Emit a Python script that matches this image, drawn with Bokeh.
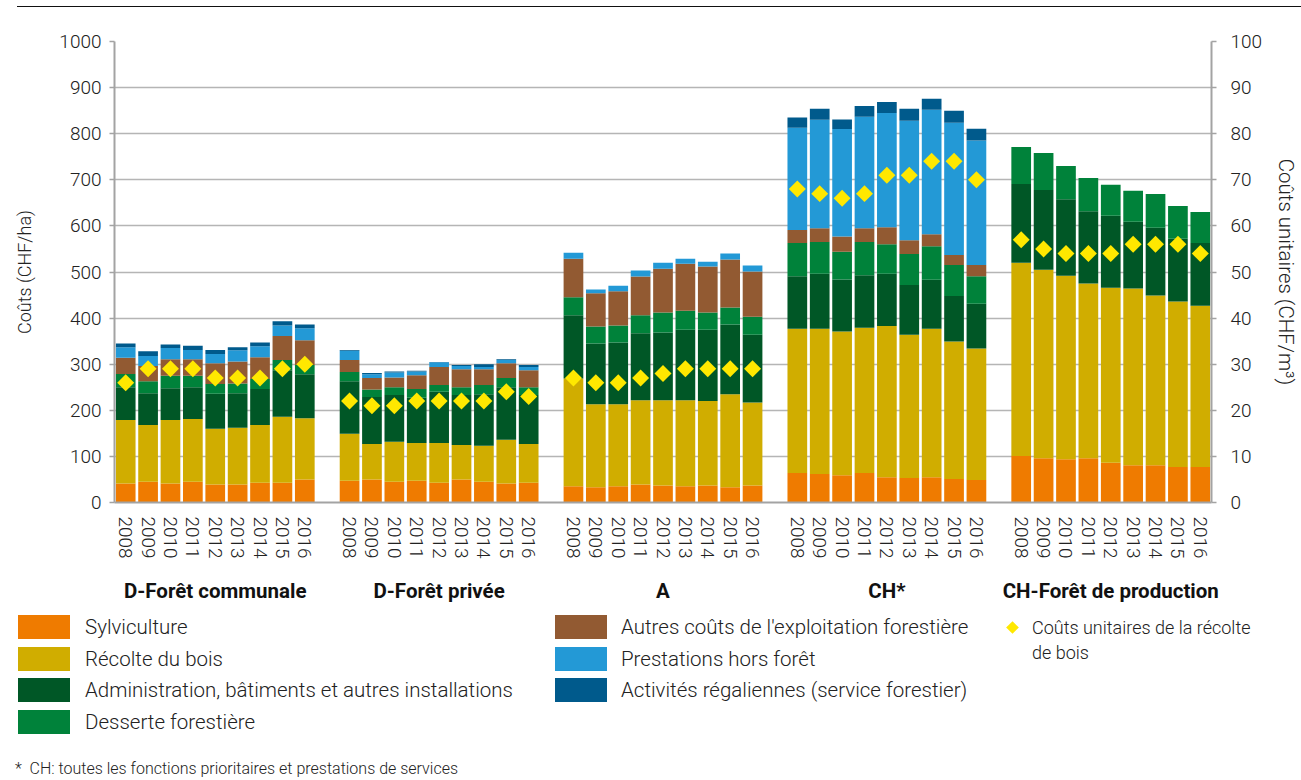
import math
import html
from bokeh.plotting import figure
from bokeh.layouts import column
from bokeh.models import (ColumnDataSource, FactorRange, Range1d, LinearAxis, FixedTicker, Div)
from bokeh.embed import file_html
from bokeh.resources import INLINE

FONT = "Roboto Light, Roboto"

groups = ["D-Forêt communale", "D-Forêt privée", "A", "CH*", "CH-Forêt de production"]
years = ["2008", "2009", "2010", "2011", "2012", "2013", "2014", "2015", "2016"]

# CHF/ha, per group (9 years each)
sylviculture = [41, 45, 41, 45, 39, 39, 43, 43, 50,
                47, 50, 45, 47, 43, 50, 45, 41, 43,
                35, 33, 35, 39, 37, 35, 37, 33, 37,
                64, 62, 59, 64, 55, 53, 55, 51, 49,
                101, 96, 94, 96, 86, 81, 81, 77, 77]
recolte = [138, 123, 138, 136, 121, 123, 125, 143, 133,
           102, 77, 87, 82, 86, 75, 78, 95, 84,
           234, 180, 178, 183, 185, 187, 183, 202, 180,
           313, 315, 312, 315, 328, 311, 322, 298, 285,
           419, 409, 398, 379, 380, 383, 368, 359, 350]
administration = [71, 69, 69, 69, 76, 75, 78, 101, 95,
                  114, 102, 101, 98, 111, 108, 112, 114, 106,
                  137, 132, 134, 145, 147, 153, 155, 151, 147,
                  114, 119, 113, 114, 113, 108, 106, 99, 97,
                  171, 173, 166, 157, 156, 145, 147, 136, 136]
desserte = [29, 26, 27, 25, 21, 21, 22, 22, 20,
            20, 16, 17, 19, 15, 17, 20, 20, 17,
            39, 37, 37, 39, 43, 41, 37, 37, 39,
            72, 69, 60, 72, 64, 67, 73, 67, 60,
            80, 80, 72, 72, 67, 67, 73, 71, 67]
autres = [35, 33, 36, 36, 45, 48, 47, 52, 54,
          26, 25, 21, 30, 39, 39, 34, 32, 37,
          84, 72, 74, 84, 95, 102, 100, 104, 98,
          28, 30, 33, 30, 37, 30, 26, 22, 24,
          0, 0, 0, 0, 0, 0, 0, 0, 0]
prestations = [23, 22, 24, 20, 20, 24, 24, 23, 26,
               20, 8, 11, 8, 10, 7, 5, 7, 7,
               13, 8, 12, 13, 13, 11, 10, 13, 13,
               222, 235, 233, 242, 248, 259, 270, 287, 270,
               0, 0, 0, 0, 0, 0, 0, 0, 0]
activites = [8, 10, 8, 9, 9, 7, 8, 9, 8,
             2, 3, 2, 2, 1, 2, 6, 2, 4,
             0, 0, 0, 0, 0, 0, 0, 0, 0,
             22, 24, 21, 23, 24, 26, 24, 26, 26,
             0, 0, 0, 0, 0, 0, 0, 0, 0]
# CHF/m3
couts_unitaires = [26, 29, 29, 29, 27, 27, 27, 29, 30,
                   22, 21, 21, 22, 22, 22, 22, 24, 23,
                   27, 26, 26, 27, 28, 29, 29, 29, 29,
                   68, 67, 66, 67, 71, 71, 74, 74, 70,
                   57, 55, 54, 54, 54, 56, 56, 56, 54]

series_keys = ["sylv", "recolte", "admin", "desserte", "autres", "prest", "activ"]
series_labels = ["Sylviculture", "Récolte du bois", "Administration, bâtiments et autres installations",
                 "Desserte forestière", "Autres coûts de l'exploitation forestière",
                 "Prestations hors forêt", "Activités régaliennes (service forestier)"]
colors = ["#EF7B00", "#D0AD00", "#005726", "#00823A", "#925A32", "#2399D6", "#005A8C"]
diamond_color = "#FFE800"
diamond_label = "Coûts unitaires de la récolte\nde bois"
footnote = "*  CH: toutes les fonctions prioritaires et prestations de services"

left_ticks = [0, 100, 200, 300, 400, 500, 600, 700, 800, 900, 1000]
right_ticks = [0, 10, 20, 30, 40, 50, 60, 70, 80, 90, 100]

# year labels padded (leading spaces) to leave a gap before the group labels
factors = [(g, "  " + y) for g in groups for y in years]
source = ColumnDataSource(dict(
    x=factors, sylv=sylviculture, recolte=recolte, admin=administration, desserte=desserte,
    autres=autres, prest=prestations, activ=activites, unit=couts_unitaires))

W = 1301
p = figure(width=W, height=597,
           x_range=FactorRange(*factors, group_padding=1.0, factor_padding=0.0, range_padding=0.0),
           y_range=Range1d(0, 1000),
           output_backend="svg", toolbar_location=None,
           min_border_left=114, min_border_right=85, min_border_top=33, min_border_bottom=101)
p.extra_y_ranges = {"right": Range1d(0, 100)}
p.outline_line_color = None
p.background_fill_color = "white"
p.border_fill_color = "white"

bars = p.vbar_stack(series_keys, x="x", width=0.88, color=colors, line_color=None, source=source)
dia = p.scatter(x="x", y="unit", y_range_name="right", source=source, marker="square",
                angle=math.pi / 4, size=12, fill_color=diamond_color, line_color=None)

p.xgrid.grid_line_color = None
p.ygrid.grid_line_color = "#B5B5B5"
p.ygrid.grid_line_width = 1.5

AX = "#A3A3A3"
yl = p.yaxis[0]
yl.ticker = FixedTicker(ticks=left_ticks)
yl.axis_label = "Coûts (CHF/ha)"
yr = LinearAxis(y_range_name="right", ticker=FixedTicker(ticks=right_ticks),
                axis_label="Coûts unitaires (CHF/m³)")
p.add_layout(yr, "right")
for ax, st, lst, tfs in ((yl, 8, 21, "18px"), (yr, 14, 9, "20.5px")):
    ax.axis_line_color = AX
    ax.axis_line_width = 2
    ax.major_tick_line_color = AX
    ax.major_tick_line_width = 1.5
    ax.major_tick_out = 5
    ax.major_tick_in = 0
    ax.minor_tick_line_color = None
    ax.major_label_text_font = FONT
    ax.major_label_text_font_size = "19px"
    ax.major_label_text_color = "#222222"
    ax.major_label_standoff = st
    ax.axis_label_text_font = FONT
    ax.axis_label_text_font_size = tfs
    ax.axis_label_text_font_style = "normal"
    ax.axis_label_text_color = "#222222"
    ax.axis_label_standoff = lst

xa = p.xaxis[0]
xa.axis_line_color = AX
xa.axis_line_width = 2
xa.major_tick_line_color = None
xa.minor_tick_line_color = None
xa.major_label_orientation = "vertical"
xa.major_label_text_font = FONT
xa.major_label_text_font_size = "19px"
xa.major_label_text_color = "#222222"
xa.major_label_standoff = 8
xa.group_text_font = "Roboto"
xa.group_text_font_size = "20.5px"
xa.group_text_font_style = "bold"
xa.group_text_color = "#111111"
xa.separator_line_color = None

# ---- legend + footnote (HTML block under the chart)
ROW = 31.7
parts = []
cols = [(18, 85, range(0, 4)), (555, 621, range(4, 7))]
for sw_x, tx_x, idxs in cols:
    for r, i in enumerate(idxs):
        top = 10 + r * ROW
        parts.append(f'<div style="position:absolute;left:{sw_x}px;top:{top:.1f}px;width:52px;'
                     f'height:24px;background:{colors[i]}"></div>')
        parts.append(f'<div style="position:absolute;left:{tx_x}px;top:{top:.1f}px;height:24px;'
                     f'line-height:24px;font-size:20.5px;white-space:nowrap">'
                     f'{html.escape(series_labels[i])}</div>')
parts.append(f'<div style="position:absolute;left:1007.5px;top:17.5px;width:9px;height:9px;'
             f'background:{diamond_color};transform:rotate(45deg)"></div>')
parts.append('<div style="position:absolute;left:1032px;top:9.5px;line-height:25px;font-size:18px;'
             'white-space:nowrap">'
             + "<br>".join(html.escape(s) for s in diamond_label.split("\n")) + '</div>')
parts.append('<div style="position:absolute;left:15px;top:156px;line-height:16px;font-size:16px;'
             f'white-space:pre">{html.escape(footnote)}</div>')
legend_html = (f'<div style="position:relative;width:{W}px;height:175px;font-family:{FONT};'
               'color:#222222">' + "".join(parts) + '</div>')
legend_div = Div(text=legend_html, width=W, height=175, margin=0)

top_line = Div(text="", width=1284, height=2, margin=(6, 0, 0, 17),
               styles={"border-top": "1.5px solid #111111", "box-sizing": "border-box"})

layout = column(top_line, p, legend_div, spacing=0)
open("out.html", "w").write(file_html(layout, INLINE))
